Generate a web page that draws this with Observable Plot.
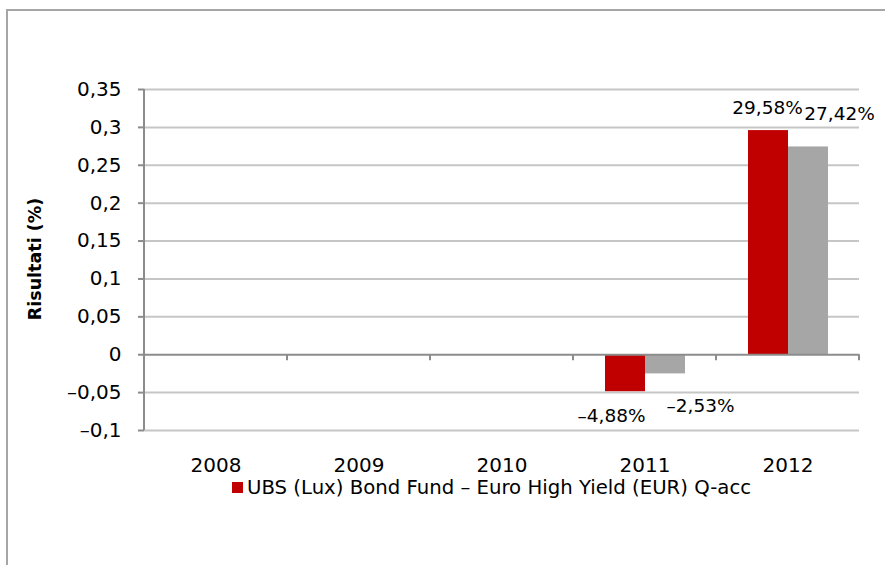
<!DOCTYPE html>
<html><head><meta charset="utf-8">
<script src="https://cdn.jsdelivr.net/npm/d3@7"></script>
<script src="https://cdn.jsdelivr.net/npm/@observablehq/plot@0.6"></script>
<style>
body{margin:0;background:#fff;font-family:"DejaVu Sans",sans-serif;width:885px;height:565px;overflow:hidden;position:relative;}
#frame{position:absolute;left:6px;top:9px;width:900px;height:600px;border-top:2px solid #a6a6a6;border-left:2px solid #a6a6a6;}
#chart{position:absolute;left:0;top:0;}
#ylabel{position:absolute;left:35px;top:259px;transform:translate(-50%,-50%) rotate(-90deg);font-weight:bold;font-size:17.5px;white-space:nowrap;color:#000;}
#legend{position:absolute;left:232px;top:476px;font-size:19.7px;display:flex;align-items:center;color:#000;white-space:nowrap;}
#legend .sw{display:inline-block;width:11px;height:11px;background:#c00000;margin-right:4px;}
</style></head>
<body>
<div id="frame"></div>
<div id="chart"></div>
<div id="ylabel">Risultati (%)</div>
<div id="legend"><span class="sw"></span><span id="legtext"></span></div>
<script>
const years = ["2008", "2009", "2010", "2011", "2012"];
const seriesNames = ["UBS (Lux) Bond Fund – Euro High Yield (EUR) Q-acc", "Benchmark"];
const fundValues = [null, null, null, -0.0488, 0.2958];
const benchValues = [null, null, null, -0.0253, 0.2742];
const yTicks = [-0.1, -0.05, 0, 0.05, 0.1, 0.15, 0.2, 0.25, 0.3, 0.35];
const colors = ["#c00000", "#a6a6a6"];

const it = d3.formatLocale({decimal: ",", thousands: ".", grouping: [3], currency: ["€", ""], minus: "–"});
const fmtTick = it.format(".2~f");
const fmtPct = it.format(".2%");

const data = [];
years.forEach((y, i) => {
  data.push({year: y, series: seriesNames[0], value: fundValues[i]});
  data.push({year: y, series: seriesNames[1], value: benchValues[i]});
});
document.getElementById("legtext").textContent = seriesNames[0];

const pick = (s, pos) => data.filter(d => d.series === s && d.value != null && (pos ? d.value > 0 : d.value < 0));
const txt = {fx: "year", x: "series", y: "value", text: d => fmtPct(d.value), fontSize: 18.5, fill: "#000"};

const plot = Plot.plot({
  width: 885, height: 480,
  marginLeft: 143, marginRight: 25, marginTop: 89, marginBottom: 50,
  style: {fontFamily: "DejaVu Sans, sans-serif", fontSize: "20px", color: "#000", background: "transparent", overflow: "visible"},
  facet: {data, x: "year"},
  fx: {domain: years, padding: 0, label: null},
  x: {domain: seriesNames, paddingInner: 0, paddingOuter: 0.75, axis: null},
  y: {domain: [-0.1, 0.35], label: null},
  color: {domain: seriesNames, range: colors},
  marks: [
    Plot.gridY(yTicks.filter(v => v !== 0), {stroke: "#c6c6c6", strokeOpacity: 1, strokeWidth: 2}),
    Plot.axisY({ticks: yTicks, tickFormat: fmtTick, tickSize: 6, tickPadding: 17, stroke: "#8c8c8c", strokeWidth: 2, label: null, fontSize: 20}),
    Plot.axisFx({anchor: "bottom", tickSize: 0, tickPadding: 27, fontSize: 20, label: null}),
    Plot.barY(data, {x: "series", y: "value", fill: "series", filter: d => d.value != null}),
    Plot.ruleY([0], {stroke: "#8c8c8c", strokeWidth: 2}),
    Plot.text(pick(seriesNames[0], true), {...txt, dy: -22, dx: -1}),
    Plot.text(pick(seriesNames[1], true), {...txt, dy: -33, dx: 31}),
    Plot.text(pick(seriesNames[0], false), {...txt, dy: 24, dx: -14}),
    Plot.text(pick(seriesNames[1], false), {...txt, dy: 32, dx: 35})
  ]
});

// y axis line and category boundary ticks, positioned through the plot's own scales
const fx = plot.scale("fx"), ys = plot.scale("y");
const svg = d3.select(plot);
const y0 = ys.apply(0);
const bounds = years.map(y => fx.apply(y)).concat([fx.apply(years[years.length - 1]) + fx.bandwidth]);
const g = svg.append("g").attr("stroke", "#8c8c8c").attr("stroke-width", 2);
g.append("line").attr("x1", bounds[0]).attr("x2", bounds[0]).attr("y1", ys.apply(0.35)).attr("y2", ys.apply(-0.1));
bounds.slice(1).forEach(b => g.append("line").attr("x1", b).attr("x2", b).attr("y1", y0).attr("y2", y0 + 6));
document.getElementById("chart").appendChild(plot);
</script>
</body></html>
